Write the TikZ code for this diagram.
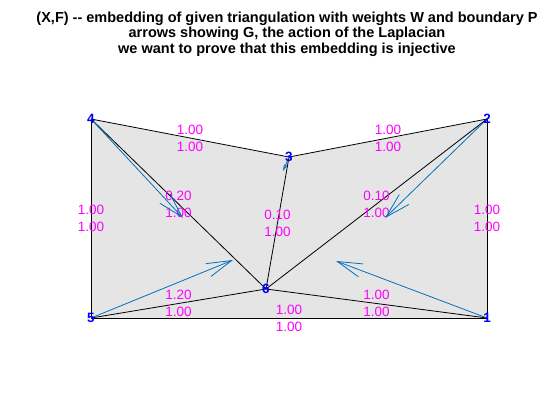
\documentclass[tikz,border=0pt]{standalone}
\usepackage{fontspec}
\setmainfont{Liberation Sans}
\usetikzlibrary{calc}
\usetikzlibrary{arrows.meta}
\usepackage{xcolor}
\definecolor{qblue}{rgb}{0,0.447,0.741}
\definecolor{facegray}{rgb}{0.9,0.9,0.9}
\definecolor{wmag}{rgb}{1,0,1}
\definecolor{vblue}{rgb}{0,0,1}

\begin{document}
\begin{tikzpicture}[x=1pt,y=-1pt,
  wt/.style={text=wmag, font=\fontsize{13.5}{17}\selectfont, align=center, inner sep=0},
  vlab/.style={text=vblue, font=\fontsize{13.5}{16}\selectfont\bfseries, inner sep=0},
  quiv/.style={qblue, line width=0.8pt, -{Straight Barb[length=#1, width=0.55*#1]}}]
\useasboundingbox (0,0) rectangle (560,420);
\node[font=\fontsize{14.5}{15.5}\selectfont\bfseries, align=center] (title) at (287,34)
 {(X,F) -{}- embedding of given triangulation with weights W and boundary P\\
  arrows showing G, the action of the Laplacian\\
  we want to prove that this embedding is injective};
\coordinate (v1) at (487,318);
\coordinate (v2) at (487,119);
\coordinate (v3) at (289,157);
\coordinate (v4) at (91,119);
\coordinate (v5) at (91,318);
\coordinate (v6) at (266,289);
\fill[facegray] (v5)--(v4)--(v3)--(v2)--(v1)--cycle;
\foreach \a/\b in {4/3,3/2,2/1,1/5,5/4,4/6,3/6,2/6,5/6,1/6}
 \draw[black, line width=0.8pt] (v\a)--(v\b);
\foreach \a/\b/\p/\q in {4/3/1.00/1.00, 3/2/1.00/1.00, 2/1/1.00/1.00, 5/4/1.00/1.00,
 5/1/1.00/1.00, 4/6/0.20/1.00, 3/6/0.10/1.00, 2/6/0.10/1.00, 5/6/1.20/1.00, 6/1/1.00/1.00}
 \node[wt] (w\a\b) at ($(v\a)!0.5!(v\b)$) {\p\\\q};
\coordinate (g1) at (336,261);
\coordinate (g2) at (385,218);
\coordinate (g3) at (283,171);
\coordinate (g4) at (183,218);
\coordinate (g5) at (233,260);
\foreach \v/\h in {1/25,2/25,3/5,4/25,5/25}
 \draw[quiv=\h] (v\v)--(g\v);
\foreach \v in {1,...,6}
 \node[vlab] (n\v) at (v\v) {\v};
\end{tikzpicture}
\end{document}
